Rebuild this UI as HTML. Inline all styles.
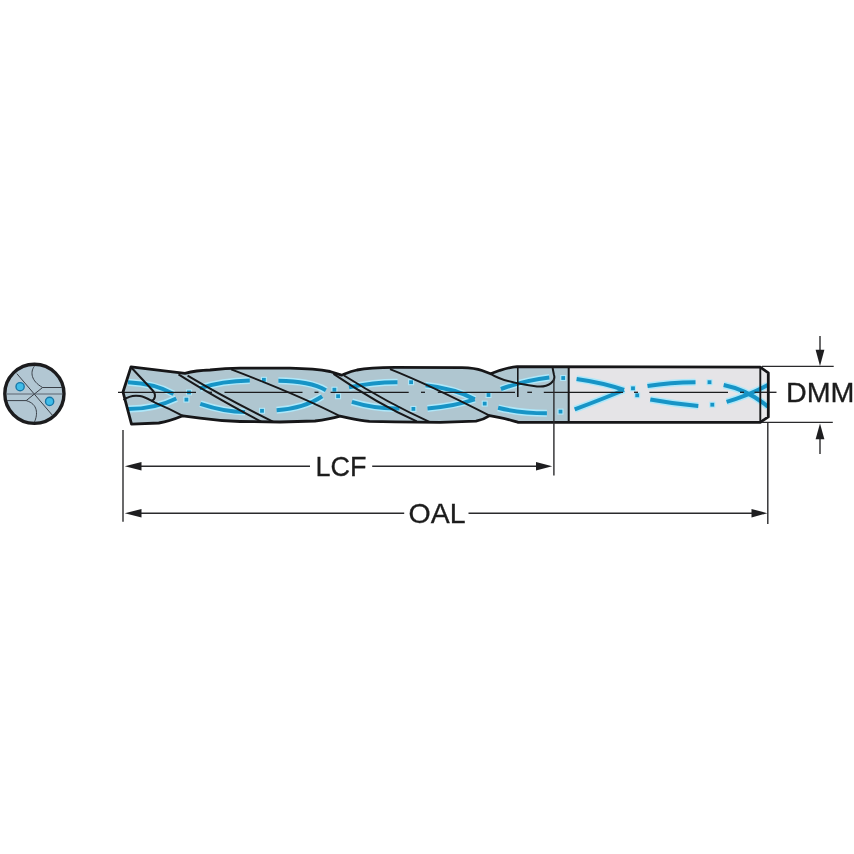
<!DOCTYPE html>
<html><head><meta charset="utf-8">
<style>
html,body{margin:0;padding:0;background:#fff;}
body{width:854px;height:854px;overflow:hidden;}
svg{display:block;will-change:transform;}
text{font-family:"Liberation Sans",sans-serif;fill:#1c1c1c;stroke:#1c1c1c;stroke-width:0.3px;}
</style></head><body>
<svg width="854" height="854" viewBox="0 0 854 854">
<rect width="854" height="854" fill="#fff"/>
<g>
<circle cx="34.4" cy="393.8" r="29.6" fill="#b2c7d3" stroke="#1c1c1e" stroke-width="3.4"/>
<g fill="none" stroke="#3a4048" stroke-width="1">
<line x1="16.8" y1="373.6" x2="52.5" y2="415.4"/>
<line x1="6.5" y1="394" x2="62" y2="394" stroke="#5a6570" stroke-width="1.1"/>
<path d="M42.6 387.5 L62 387.5"/>
<path d="M7 400.6 L26.2 400.6"/>
<path d="M34.4 366.2 C30 372 31 381 42.6 387.5 L34.4 394"/>
<path d="M26.2 400.6 C38 404 38 414 34.4 422.2"/>
<path d="M26.2 400.6 L34.4 394"/>
</g>
<circle cx="20.1" cy="386.7" r="4.1" fill="#40bce8" stroke="#1878a8" stroke-width="1.4"/>
<circle cx="49.6" cy="401.4" r="4.1" fill="#40bce8" stroke="#1878a8" stroke-width="1.4"/>
</g>
<path d="M123 392 L131 366.8 L158 370.2 L185 373.4 C192 371.5 200 370.3 210 370 C220 369 228 368.4 240 368.2 L290 368.2 C310 368.6 322 370 330 371.5 L341.5 375.2 C346 373.5 350 371.5 357 370 C365 368.5 378 367.6 395 367.4 L462 367.6 C472 367.8 478 369 482 370.5 L490.6 373.8 L500 370.3 C506 368.5 511 367 517 366.6 L760.3 367.2 L768.3 372.8 L768.3 416.9 L760.3 422.3 L518.2 422.4 C514 421.2 508 419 500 417.6 L489.6 415.6 C486 418 482 420 476 421.2 L440 422.4 L395 421.8 L369.4 421.4 C362 420.5 354 419 348 417.8 L340 416.2 C334 418 326 419.8 315 421 L280 422 L240 421.5 C225 421 212 419.8 200 418.1 L182.8 415.8 C175 419 168 421.5 158.8 423 L131.5 424.2 Z" fill="#afc6d0"/>
<rect x="568.9" y="367" width="191.4" height="55.3" fill="#e5e4e7"/>
<path d="M760.3 367.2 L768.3 372.8 L768.3 416.9 L760.3 422.2 Z" fill="#e8e8ea"/>
<g fill="none" stroke-linecap="butt">
<g stroke="#aee8fa" stroke-width="7">
<path d="M128 382.3 Q155 383.5 173.5 394"/>
<path d="M128 409 Q155 409 176.3 398.5"/>
<path d="M199.6 388.4 Q222 381 249.8 380.6"/>
<path d="M278.4 380.8 Q310 381 325.9 390.2"/>
<path d="M200.3 403.8 Q225 412 245 412"/>
<path d="M276.6 410.3 Q305 408 322.2 396.4"/>
<path d="M349 387.3 Q375 382 397.5 382.2"/>
<path d="M425.6 385.2 Q455 388.5 474.7 399.3"/>
<path d="M351.9 401.9 Q375 409 399.4 408.4"/>
<path d="M427.5 408.4 Q455 406 474.7 399.3"/>
<path d="M500.9 389 Q525 380.2 549.3 377.4"/>
<path d="M576.6 378.9 Q605 383 624 390"/>
<path d="M498.1 407.8 Q520 413.2 546.9 413.3"/>
<path d="M574.7 409.4 Q605 398 624 390"/>
<path d="M647.5 386 Q670 382.5 695.5 382.2"/>
<path d="M723.7 385 Q748 390 767.8 406.6"/>
<path d="M650.3 399.5 Q675 404 698.3 406.1"/>
<path d="M726.6 401.9 Q750 395 767.8 385"/>
</g>
<g fill="#aee8fa">
<rect x="186.0" y="389.4" width="6" height="6"/>
<rect x="183.4" y="396.6" width="6" height="6"/>
<rect x="260.9" y="376.8" width="6" height="6"/>
<rect x="259.0" y="407.8" width="6" height="6"/>
<rect x="331.4" y="386.7" width="6" height="6"/>
<rect x="335.1" y="393.2" width="6" height="6"/>
<rect x="408.1" y="379.2" width="6" height="6"/>
<rect x="410.4" y="405.9" width="6" height="6"/>
<rect x="485.5" y="392.0" width="6" height="6"/>
<rect x="481.7" y="400.6" width="6" height="6"/>
<rect x="560.2" y="375.0" width="6" height="6"/>
<rect x="557.5" y="408.6" width="6" height="6"/>
<rect x="630.0" y="385.3" width="6" height="6"/>
<rect x="634.2" y="392.3" width="6" height="6"/>
<rect x="706.5" y="379.2" width="6" height="6"/>
<rect x="709.3" y="401.7" width="6" height="6"/>
</g>
<g stroke="#1794c6" stroke-width="4">
<path d="M128 382.3 Q155 383.5 173.5 394"/>
<path d="M128 409 Q155 409 176.3 398.5"/>
<path d="M199.6 388.4 Q222 381 249.8 380.6"/>
<path d="M278.4 380.8 Q310 381 325.9 390.2"/>
<path d="M200.3 403.8 Q225 412 245 412"/>
<path d="M276.6 410.3 Q305 408 322.2 396.4"/>
<path d="M349 387.3 Q375 382 397.5 382.2"/>
<path d="M425.6 385.2 Q455 388.5 474.7 399.3"/>
<path d="M351.9 401.9 Q375 409 399.4 408.4"/>
<path d="M427.5 408.4 Q455 406 474.7 399.3"/>
<path d="M500.9 389 Q525 380.2 549.3 377.4"/>
<path d="M576.6 378.9 Q605 383 624 390"/>
<path d="M498.1 407.8 Q520 413.2 546.9 413.3"/>
<path d="M574.7 409.4 Q605 398 624 390"/>
<path d="M647.5 386 Q670 382.5 695.5 382.2"/>
<path d="M723.7 385 Q748 390 767.8 406.6"/>
<path d="M650.3 399.5 Q675 404 698.3 406.1"/>
<path d="M726.6 401.9 Q750 395 767.8 385"/>
</g>
<g fill="#1794c6">
<rect x="187.1" y="390.5" width="3.8" height="3.8"/>
<rect x="184.5" y="397.7" width="3.8" height="3.8"/>
<rect x="262.0" y="377.9" width="3.8" height="3.8"/>
<rect x="260.1" y="408.9" width="3.8" height="3.8"/>
<rect x="332.5" y="387.8" width="3.8" height="3.8"/>
<rect x="336.2" y="394.3" width="3.8" height="3.8"/>
<rect x="409.2" y="380.3" width="3.8" height="3.8"/>
<rect x="411.5" y="407.0" width="3.8" height="3.8"/>
<rect x="486.6" y="393.1" width="3.8" height="3.8"/>
<rect x="482.8" y="401.7" width="3.8" height="3.8"/>
<rect x="561.3" y="376.1" width="3.8" height="3.8"/>
<rect x="558.6" y="409.7" width="3.8" height="3.8"/>
<rect x="631.1" y="386.4" width="3.8" height="3.8"/>
<rect x="635.3" y="393.4" width="3.8" height="3.8"/>
<rect x="707.6" y="380.3" width="3.8" height="3.8"/>
<rect x="710.4" y="402.8" width="3.8" height="3.8"/>
</g>
</g>
<g stroke="#1c1c1e" stroke-width="1.3">
<line x1="118" y1="392.3" x2="196" y2="392.3"/>
<line x1="208" y1="392.3" x2="212" y2="392.3"/>
<line x1="224.5" y1="392.3" x2="302.5" y2="392.3"/>
<line x1="314.5" y1="392.3" x2="318.5" y2="392.3"/>
<line x1="330.6" y1="392.3" x2="408.7" y2="392.3"/>
<line x1="421" y1="392.3" x2="425" y2="392.3"/>
<line x1="437.8" y1="392.3" x2="515" y2="392.3"/>
<line x1="527.3" y1="392.3" x2="532" y2="392.3"/>
<line x1="543.8" y1="392.3" x2="623" y2="392.3"/>
<line x1="634" y1="392.3" x2="638" y2="392.3"/>
<line x1="649.4" y1="392.3" x2="728" y2="392.3"/>
<line x1="740" y1="392.3" x2="744" y2="392.3"/>
<line x1="754.5" y1="392.3" x2="776.5" y2="392.3"/>
</g>
<g fill="none" stroke="#18181a" stroke-width="2" stroke-linejoin="round">
<path d="M131.5 367.8 L152.3 390 C156.5 394.5 155.5 399.5 151.2 401"/>
<path d="M123.5 400 C128 396.5 134 395 140 396 C146 397 150 400.2 155 402.6 C163 406 172 410 182.8 415.8"/>
<path d="M178.5 374.3 Q212 395.5 261.2 421.6"/>
<path d="M187.6 375.7 Q225 398 273.4 421.9"/>
<path d="M231.2 369.4 Q298.9 395.1 340 416.2"/>
<path d="M333.5 373.8 Q377.5 403.7 416.8 421.4"/>
<path d="M344 375.5 Q387.5 402.9 429.4 421.8"/>
<path d="M390 369.1 C420 381 455 398 489.6 415.6"/>
<path d="M490.6 373.8 C498 378.5 515 383.8 537 386.4 C549 387.6 556 381 554 375 L552.6 368"/>
<line x1="517.8" y1="367.4" x2="517.8" y2="397" stroke-width="1.6"/>
<line x1="568.7" y1="367" x2="568.7" y2="422.3" stroke-width="2"/>
<line x1="760.3" y1="367.2" x2="760.3" y2="422.2" stroke-width="1.9"/>
</g>
<path d="M123 392 L131 366.8 L158 370.2 L185 373.4 C192 371.5 200 370.3 210 370 C220 369 228 368.4 240 368.2 L290 368.2 C310 368.6 322 370 330 371.5 L341.5 375.2 C346 373.5 350 371.5 357 370 C365 368.5 378 367.6 395 367.4 L462 367.6 C472 367.8 478 369 482 370.5 L490.6 373.8 L500 370.3 C506 368.5 511 367 517 366.6 L760.3 367.2 L768.3 372.8 L768.3 416.9 L760.3 422.3 L518.2 422.4 C514 421.2 508 419 500 417.6 L489.6 415.6 C486 418 482 420 476 421.2 L440 422.4 L395 421.8 L369.4 421.4 C362 420.5 354 419 348 417.8 L340 416.2 C334 418 326 419.8 315 421 L280 422 L240 421.5 C225 421 212 419.8 200 418.1 L182.8 415.8 C175 419 168 421.5 158.8 423 L131.5 424.2 Z" fill="none" stroke="#161618" stroke-width="2.8" stroke-linejoin="round"/>
<g stroke="#2a2a2c" stroke-width="1.4" fill="none">
<line x1="123" y1="430" x2="123" y2="521.7"/>
<line x1="553.9" y1="378" x2="553.9" y2="475.5"/>
<line x1="767.8" y1="423" x2="767.8" y2="524"/>
<line x1="140" y1="466.2" x2="310" y2="466.2"/>
<line x1="372.2" y1="466.2" x2="537" y2="466.2"/>
<line x1="140" y1="513.2" x2="404.2" y2="513.2"/>
<line x1="468.5" y1="513.2" x2="752" y2="513.2"/>
<line x1="762" y1="366.4" x2="833.7" y2="366.4"/>
<line x1="762" y1="422.4" x2="832.8" y2="422.4"/>
<line x1="820" y1="336" x2="820" y2="351"/>
<line x1="820" y1="438" x2="820" y2="454"/>
</g>
<g fill="#1e1e20">
<path d="M124.8 466.2 L141.5 461.9 L141.5 470.5 Z"/>
<path d="M552.2 466.2 L536 462 L536 470.4 Z"/>
<path d="M124.8 513.2 L141.5 508.9 L141.5 517.5 Z"/>
<path d="M767.3 513.2 L751.5 508.9 L751.5 517.5 Z"/>
<path d="M820 366 L815.6 349.8 L824.4 349.8 Z"/>
<path d="M820 423.4 L815.6 439.3 L824.4 439.3 Z"/>
</g>
<text x="315.6" y="476.4" font-size="28" textLength="51" lengthAdjust="spacingAndGlyphs">LCF</text>
<text x="408.6" y="522.9" font-size="28" textLength="57" lengthAdjust="spacingAndGlyphs">OAL</text>
<text x="786" y="402.1" font-size="28" textLength="68.5" lengthAdjust="spacingAndGlyphs">DMM</text>
</svg>
</body></html>
